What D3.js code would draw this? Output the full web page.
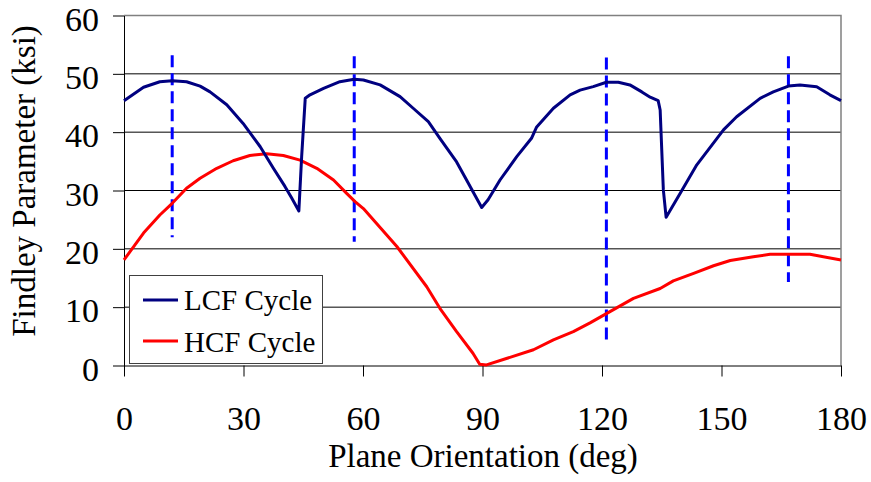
<!DOCTYPE html>
<html>
<head>
<meta charset="utf-8">
<script src="https://cdn.jsdelivr.net/npm/d3@7"></script>
<style>
  html, body { margin: 0; padding: 0; background: #fff; }
  svg { display: block; }
  text { font-family: "Liberation Serif", "Times New Roman", serif; fill: #000; }
</style>
</head>
<body>
<svg id="chart" width="871" height="482"></svg>
<script>
// ---- Data ----
const lcfDeg = [0, 4.9, 9.0, 12.1, 15.7, 19.1, 21.6, 25.8, 29.9, 34.2, 37.5, 40.4, 42.1, 43.9,
  44.6, 45.5, 46.7, 50.1, 54.2, 57.8, 60.1, 64.3, 69.3, 72.6, 76.4, 79.3, 83.5, 86.0, 88.1, 89.8,
  91.4, 94.4, 98.6, 102.3, 103.6, 107.8, 112.0, 114.5, 117.8, 121.1, 124.1, 127.0, 130.0, 132.1, 134.1,
  134.6, 135.4, 136.1, 139.6, 143.8, 150.5, 153.8, 159.7, 163.0, 166.8, 169.7, 173.9, 177.2, 180];
const lcfVal = [45.4, 47.7, 48.65, 48.8, 48.65, 47.9, 46.9, 44.7, 41.5, 37.5, 33.8, 30.7, 28.7, 26.5,
  35.8, 45.8, 46.4, 47.5, 48.65, 49.06, 48.95, 48.1, 46.1, 44.1, 41.8, 38.95, 34.9, 31.8, 29.2, 27.1,
  28.4, 31.8, 35.8, 38.95, 40.9, 44.1, 46.4, 47.2, 47.8, 48.55, 48.55, 48.1, 46.9, 46.0, 45.4,
  43.8, 30.1, 25.4, 29.5, 34.4, 40.4, 42.65, 45.8, 46.9, 47.9, 48.1, 47.8, 46.4, 45.4];

const hcfDeg = [0, 4.9, 9.0, 12.1, 15.7, 19.1, 23.3, 27.4, 31.6, 35.8, 40.0, 44.2, 48.4, 52.6,
  55.9, 58.0, 60.1, 68.5, 76.0, 79.3, 83.5, 87.6, 89.3, 91.0, 96.0, 102.8, 107.8, 112.8, 117.0,
  121.1, 127.9, 134.6, 137.9, 143.0, 148.0, 152.2, 158.0, 162.2, 166.8, 172.2, 180];
const hcfVal = [18.1, 22.7, 25.8, 27.8, 30.4, 32.1, 33.8, 35.1, 36.0, 36.3, 36.0, 35.2, 33.8, 31.8,
  29.5, 28.1, 26.9, 20.4, 13.5, 9.8, 5.8, 2.1, 0.2, 0.1, 1.2, 2.7, 4.4, 5.8, 7.3,
  8.9, 11.5, 13.2, 14.5, 15.8, 17.1, 18.0, 18.65, 19.06, 19.06, 19.06, 18.1];

// dashed vertical markers
const markDeg = [12.1, 57.8, 121.1, 166.8];
const markTop = [53.2, 53.0, 52.8, 53.0];
const markBottom = [22.0, 21.2, 4.4, 14.3];

const xTicks = [0, 30, 60, 90, 120, 150, 180];
const yTicks = [0, 10, 20, 30, 40, 50, 60];
const seriesNames = ["LCF Cycle", "HCF Cycle"];
const seriesColors = ["#000080", "#FF0000"];

// ---- Layout ----
const svg = d3.select("#chart");
const x = d3.scaleLinear().domain([0, 180]).range([124, 841]);
const y = d3.scaleLinear().domain([0, 60]).range([365.5, 15.5]);

// gridlines
svg.append("g").selectAll("line").data(yTicks.filter(d => d > 0)).join("line")
  .attr("x1", x(0)).attr("x2", x(180))
  .attr("y1", d => y(d)).attr("y2", d => y(d))
  .attr("stroke", "#000").attr("stroke-width", 1);

// plot border (top/right grey)
svg.append("path")
  .attr("d", `M${x(0)},${y(60)}H${x(180)}V${y(0)}`)
  .attr("fill", "none").attr("stroke", "#808080").attr("stroke-width", 1.5);

// axes
const yAxis = d3.axisLeft(y).tickValues(yTicks).tickSize(11).tickPadding(14).tickSizeOuter(0);
const gy = svg.append("g").attr("transform", `translate(${x(0)},0)`).call(yAxis);
gy.selectAll("text").attr("dy", "14.5px").style("font-size", "34px")
  .style("font-family", '"Liberation Serif", "Times New Roman", serif');
gy.select(".domain").attr("stroke", "#000");

const xAxis = d3.axisBottom(x).tickValues(xTicks).tickSize(11).tickSizeOuter(0);
const gx = svg.append("g").attr("transform", `translate(0,${y(0)})`).call(xAxis);
gx.selectAll("text").attr("y", 64.5).attr("dy", 0).style("font-size", "34px")
  .style("font-family", '"Liberation Serif", "Times New Roman", serif');
gx.selectAll(".tick line").attr("stroke", "#000");
gx.select(".domain").attr("stroke", "#000");

// dashed markers
svg.append("g").selectAll("line").data(markDeg).join("line")
  .attr("x1", d => x(d)).attr("x2", d => x(d))
  .attr("y1", (d, i) => y(markTop[i])).attr("y2", (d, i) => y(markBottom[i]))
  .attr("stroke", "#0000FF").attr("stroke-width", 3).attr("stroke-dasharray", "12,6");

// lines
const line = d3.line().x(d => x(d[0])).y(d => y(d[1]));
svg.append("path").datum(hcfDeg.map((d, i) => [d, hcfVal[i]]))
  .attr("d", line).attr("fill", "none").attr("stroke", seriesColors[1])
  .attr("stroke-width", 3).attr("stroke-linejoin", "round");
svg.append("path").datum(lcfDeg.map((d, i) => [d, lcfVal[i]]))
  .attr("d", line).attr("fill", "none").attr("stroke", seriesColors[0])
  .attr("stroke-width", 3).attr("stroke-linejoin", "round");

// axis titles
svg.append("text").attr("x", 483).attr("y", 467).attr("text-anchor", "middle")
  .style("font-size", "33px").text("Plane Orientation (deg)");
svg.append("text").attr("transform", "translate(35,181) rotate(-90)").attr("text-anchor", "middle")
  .style("font-size", "33px").text("Findley Parameter (ksi)");

// legend
const lg = svg.append("g");
lg.append("rect").attr("x", 129.5).attr("y", 275.5).attr("width", 193).attr("height", 88)
  .attr("fill", "#fff").attr("stroke", "#404040").attr("stroke-width", 1);
const legY = [300, 341];
const legBase = [310, 352];
seriesNames.forEach((n, i) => {
  lg.append("line").attr("x1", 143).attr("x2", 178).attr("y1", legY[i]).attr("y2", legY[i])
    .attr("stroke", seriesColors[i]).attr("stroke-width", 3);
  lg.append("text").attr("x", 184).attr("y", legBase[i]).style("font-size", "29px").text(n);
});
</script>
</body>
</html>
